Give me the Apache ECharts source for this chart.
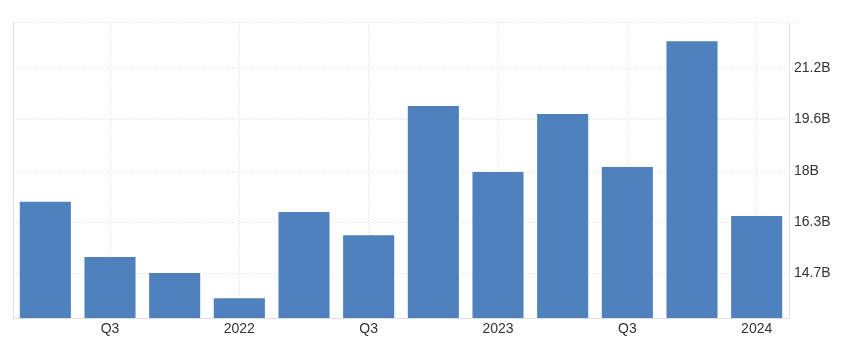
<!DOCTYPE html>
<html>
<head>
<meta charset="utf-8">
<script src="https://cdn.jsdelivr.net/npm/echarts@6/dist/echarts.min.js"></script>
<style>
html,body{margin:0;padding:0;background:#fff;}
#chart{width:843px;height:342px;}
</style>
</head>
<body>
<div id="chart"></div>
<script>
// Quarterly values (billions)
const categories = ['2021 Q2','2021 Q3','2021 Q4','2022 Q1','2022 Q2','2022 Q3','2022 Q4','2023 Q1','2023 Q2','2023 Q3','2023 Q4','2024 Q1'];
const axisLabels = ['', 'Q3', '', '2022', '', 'Q3', '', '2023', '', 'Q3', '', '2024'];
const values = [16.98, 15.22, 14.71, 13.91, 16.66, 15.92, 20.03, 17.93, 19.78, 18.09, 22.10, 16.53];
const yTicks = [14.7, 16.3333, 17.9667, 19.6, 21.2333];
const yMin = 13.28;
const yMax = 22.71;

const chart = echarts.init(document.getElementById('chart'));
const gridColor = '#dcdcdc';
chart.setOption({
  animation: false,
  grid: { left: 13, right: 54, top: 22, bottom: 24, containLabel: false },
  xAxis: {
    type: 'category',
    data: categories,
    boundaryGap: true,
    axisLine: { show: true, lineStyle: { color: '#e0e0e0', width: 1 } },
    axisTick: { show: false },
    axisLabel: {
      interval: 0,
      formatter: (v, i) => axisLabels[i],
      color: '#333',
      fontFamily: 'Liberation Sans',
      fontSize: 14,
      margin: 4
    },
    splitLine: {
      show: true,
      alignWithLabel: true,
      interval: (i) => axisLabels[i] !== '',
      lineStyle: { color: gridColor, type: [1, 2], width: 1 }
    }
  },
  yAxis: [{
    type: 'value',
    position: 'right',
    min: yMin,
    max: yMax,
    axisLine: { show: true, lineStyle: { color: '#e0e0e0', width: 1 } },
    axisTick: {
      show: true,
      length: 9,
      customValues: yTicks.concat([yMax]),
      lineStyle: { color: gridColor, type: [1, 2] }
    },
    axisLabel: {
      customValues: yTicks,
      formatter: (v) => (Math.round(v * 10) / 10) + 'B',
      color: '#333',
      fontFamily: 'Liberation Sans',
      fontSize: 14,
      margin: 5
    },
    splitLine: { show: true, lineStyle: { color: gridColor, type: [1, 2], width: 1 } }
  }, {
    type: 'value',
    position: 'left',
    min: yMin,
    max: yMax,
    axisLine: { show: true, lineStyle: { color: '#e0e0e0', width: 1 } },
    axisTick: { show: false },
    axisLabel: { show: false },
    splitLine: { show: false }
  }],
  series: [{
    type: 'bar',
    data: values,
    yAxisIndex: 0,
    barCategoryGap: '21%',
    itemStyle: { color: '#4f81bd' },
    clip: true
  }]
});
</script>
</body>
</html>
